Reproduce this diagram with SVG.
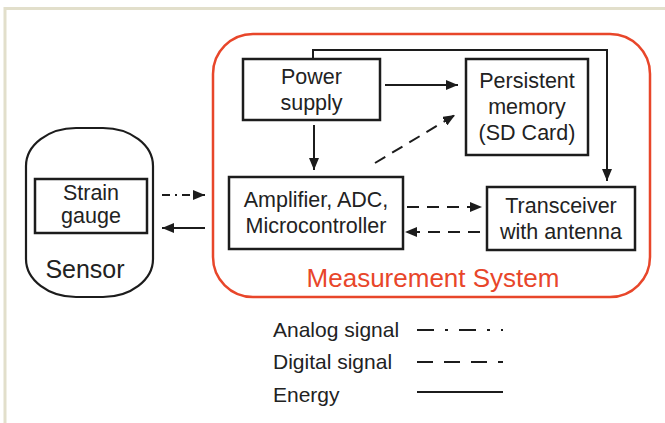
<svg xmlns="http://www.w3.org/2000/svg" width="665" height="423" viewBox="0 0 665 423">
<defs>
<style>
.bg{fill:#ffffff}
.frame{stroke:#e2dfcb;stroke-width:3;fill:none}
.box{fill:#ffffff;stroke:#1c1c1c;stroke-width:2.5}
.sys{fill:none;stroke:#e8462a;stroke-width:2.5}
.t{font-family:"Liberation Sans",Arial,sans-serif;font-size:21.5px;fill:#222;text-anchor:middle}
.lg{font-family:"Liberation Sans",Arial,sans-serif;font-size:21px;fill:#222}
.w{fill:none;stroke:#1c1c1c;stroke-width:2}
.dash{stroke-dasharray:12,8}
.dd{stroke-dasharray:8,5,2,5}
</style>
<marker id="ah" viewBox="0 0 12 10" refX="12" refY="5" markerWidth="12" markerHeight="10" markerUnits="userSpaceOnUse" orient="auto">
<path d="M0,0 L12,5 L0,10 Z" fill="#1c1c1c"/>
</marker>
</defs>
<rect class="bg" x="0" y="0" width="665" height="423"/>
<path class="frame" d="M5,423 V8.5 H665"/>

<g id="measurement-system">
<rect class="sys" x="213" y="34" width="437" height="263" rx="40" ry="40"/>
<text x="433" y="287" style="font-family:'Liberation Sans',Arial,sans-serif;font-size:26px;fill:#e8462a;text-anchor:middle">Measurement System</text>
</g>

<g id="sensor">
<rect x="26" y="128" width="127" height="169" rx="50" ry="38" fill="#fff" stroke="#1c1c1c" stroke-width="2.2"/>
<text class="t" x="85" y="278" style="font-size:25px">Sensor</text>
</g>

<g id="strain-gauge">
<rect class="box" x="35" y="179" width="112" height="54"/>
<text class="t" x="91" y="200">Strain</text>
<text class="t" x="91" y="223">gauge</text>
</g>

<g id="power-supply">
<rect class="box" x="243" y="59" width="137" height="61"/>
<text class="t" x="311.5" y="84">Power</text>
<text class="t" x="311.5" y="110">supply</text>
</g>

<g id="persistent-memory">
<rect class="box" x="466" y="59" width="122" height="96"/>
<text class="t" x="527" y="88">Persistent</text>
<text class="t" x="527" y="114">memory</text>
<text class="t" x="527" y="140">(SD Card)</text>
</g>

<g id="amplifier">
<rect class="box" x="229" y="177" width="174" height="72"/>
<text class="t" x="316" y="207">Amplifier, ADC,</text>
<text class="t" x="316" y="233">Microcontroller</text>
</g>

<g id="transceiver">
<rect class="box" x="487" y="187" width="148" height="63"/>
<text class="t" x="561" y="213">Transceiver</text>
<text class="t" x="561" y="239">with antenna</text>
</g>

<g id="connectors">
<path class="w" d="M313,59 V50 H607 V181" marker-end="url(#ah)"/>
<path class="w" d="M385,85 H458" marker-end="url(#ah)"/>
<path class="w" d="M314,125 V170" marker-end="url(#ah)"/>
<path class="w dash" d="M375,163 L455,115" marker-end="url(#ah)"/>
<path class="w dash" d="M407,207 H482" marker-end="url(#ah)"/>
<path class="w dash" d="M480,232 H405" marker-end="url(#ah)"/>
<path class="w dd" d="M162,195 H205" marker-end="url(#ah)"/>
<path class="w" d="M205,228 H162" marker-end="url(#ah)"/>
</g>

<g id="legend">
<text class="lg" x="273" y="337">Analog signal</text>
<text class="lg" x="273" y="369">Digital signal</text>
<text class="lg" x="273" y="402">Energy</text>
<path class="w" d="M417,330 H503" style="stroke-dasharray:17,11,3,11"/>
<path class="w" d="M417,362 H503" style="stroke-dasharray:16,11"/>
<path class="w" d="M417,392 H503"/>
</g>
</svg>
